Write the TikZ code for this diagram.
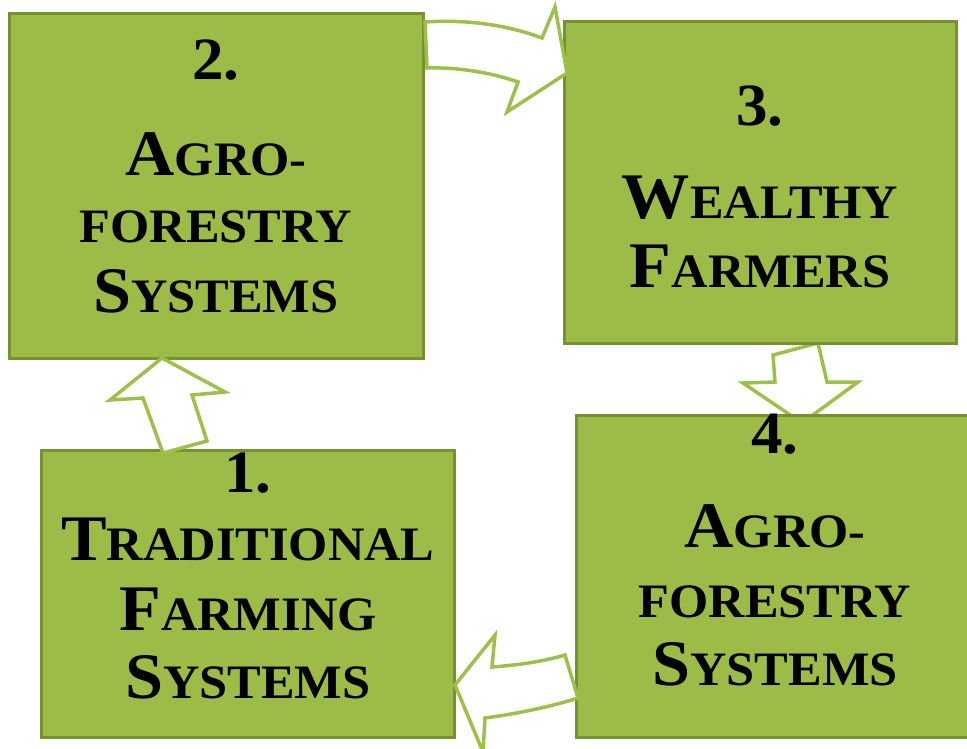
\documentclass[tikz,border=0pt]{standalone}
\usepackage{fontspec}
\setmainfont{Liberation Serif}[BoldFeatures={FakeStretch=1.05}]
\newcommand\capsmall[2]{{\fontsize{65bp}{70bp}\selectfont #1}{\fontsize{48bp}{70bp}\selectfont #2}}
\newcommand\smallonly[1]{{\fontsize{48bp}{70bp}\selectfont #1}}
\newcommand\stepnum[1]{{\fontsize{60bp}{70bp}\selectfont #1}}
\definecolor{boxfill}{HTML}{9CBB47}
\definecolor{boxedge}{HTML}{76922F}
\definecolor{arrowedge}{HTML}{9DC04A}
\tikzset{
  x=1bp, y=-1bp,
  stagebox/.style={draw=boxedge, line width=3bp, fill=boxfill, inner sep=0pt},
  lbl/.style={anchor=base, inner sep=0pt, font=\bfseries},
  blockarrow/.style={draw=arrowedge, line width=3.5bp, fill=white, line join=miter},
}
\begin{document}
\begin{tikzpicture}
\useasboundingbox (0,0) rectangle (967,749);

% arrow from stage 3 down to stage 4 (tip tucked under stage 4)
\draw[blockarrow] (773,355) -- (818,343) -- (827,382) -- (858,382) -- (802,423)
  -- (743,383) -- (775,382) -- cycle;

% stage boxes
\node[stagebox, minimum width=413bp, minimum height=344bp] (b2) at (216.5,186) {};
\node[stagebox, minimum width=392bp, minimum height=321bp] (b3) at (760,182.5) {};
\node[stagebox, minimum width=399bp, minimum height=322bp] (b4) at (775.5,576) {};
\node[stagebox, minimum width=412bp, minimum height=287bp] (b1) at (248,593.5) {};

% stage 2
\node[lbl] (n2)  at (216,80)  {\stepnum{2.}};
\node[lbl] (n2a) at (216,175) {\capsmall{A}{GRO-}};
\node[lbl] (n2b) at (216,242) {\smallonly{FORESTRY}};
\node[lbl] (n2c) at (216,312) {\capsmall{S}{YSTEMS}};

% stage 3
\node[lbl] (n3)  at (760,125) {\stepnum{3.}};
\node[lbl] (n3a) at (760,218) {\capsmall{W}{EALTHY}};
\node[lbl] (n3b) at (760,287) {\capsmall{F}{ARMERS}};

% stage 4
\node[lbl] (n4)  at (775,453) {\stepnum{4.}};
\node[lbl] (n4a) at (775,547) {\capsmall{A}{GRO-}};
\node[lbl] (n4b) at (775,617) {\smallonly{FORESTRY}};
\node[lbl] (n4c) at (775,685) {\capsmall{S}{YSTEMS}};

% stage 1
\node[lbl] (n1)  at (248,492) {\stepnum{1.}};
\node[lbl] (n1a) at (248,560) {\capsmall{T}{RADITIONAL}};
\node[lbl] (n1b) at (248,630) {\capsmall{F}{ARMING}};
\node[lbl] (n1c) at (248,698) {\capsmall{S}{YSTEMS}};

% arrow from stage 1 up to stage 2
\draw[blockarrow] (163,453) -- (143,398) -- (110,400) -- (162,358) -- (225,392)
  -- (192,395) -- (207,441) -- cycle;

% curved arrow from stage 2 to stage 3
\draw[blockarrow] (425,22) .. controls (470,19) and (510,26) .. (542,38)
  -- (555,7) -- (567,73) -- (507,112) -- (518,82)
  .. controls (490,72) and (455,67) .. (427,68) -- cycle;

% curved arrow from stage 4 to stage 1
\draw[blockarrow] (455,685) -- (495,635) -- (492,667)
  .. controls (520,665) and (545,661) .. (565,655) -- (578,698)
  .. controls (550,707) and (515,714) .. (485,718) -- (483,752) -- cycle;
\end{tikzpicture}
\end{document}
